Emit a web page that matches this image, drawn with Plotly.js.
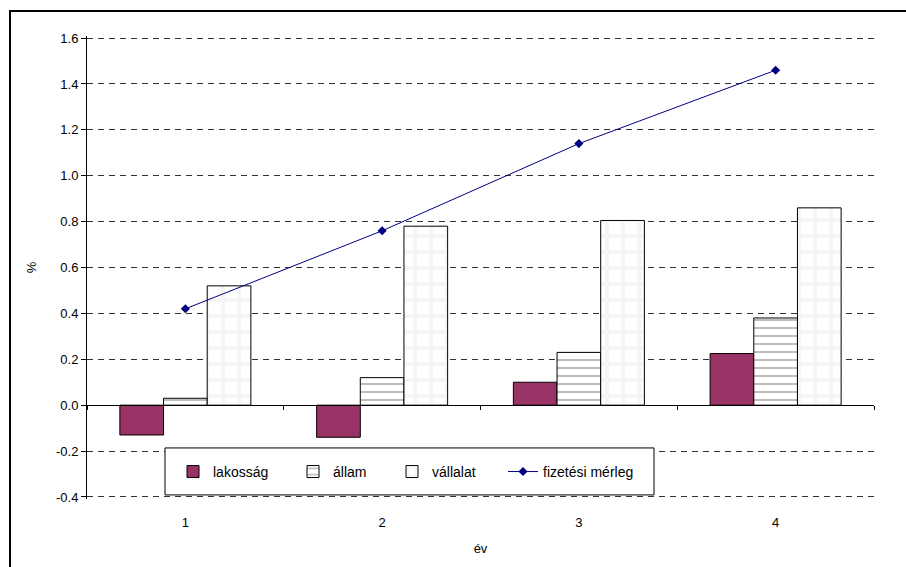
<!DOCTYPE html>
<html>
<head>
<meta charset="utf-8">
<script src="https://cdn.plot.ly/plotly-3.0.1.min.js"></script>
<style>
  html, body { margin: 0; padding: 0; background: #fff; overflow: hidden; }
  #wrap { position: relative; width: 906px; height: 567px; }
  #chart { position: absolute; left: 0; top: 0; width: 906px; height: 567px; }
  #frame { position: absolute; left: 9px; top: 10px; width: 920px; height: 580px;
           border-left: 2px solid #000; border-top: 2px solid #000; pointer-events: none; }
</style>
</head>
<body>
<div id="wrap">
  <div id="chart"></div>
  <div id="frame"></div>
</div>
<script>
// years on the category axis
const years = ['1', '2', '3', '4'];

// contributions by sector, %
const lakossag = [-0.13, -0.14, 0.10, 0.225];
const allam    = [0.03, 0.12, 0.23, 0.38];
const vallalat = [0.52, 0.78, 0.805, 0.86];

// balance of payments, %
const fizetesiMerleg = [0.42, 0.76, 1.14, 1.46];

// y tick labels (plain hyphen minus)
const yTickVals = [-0.4, -0.2, 0.0, 0.2, 0.4, 0.6, 0.8, 1.0, 1.2, 1.4, 1.6];
const yTickText = ['-0.4', '-0.2', '0.0', '0.2', '0.4', '0.6', '0.8', '1.0', '1.2', '1.4', '1.6'];

const FONT = 'Liberation Sans, Arial, sans-serif';
const barLine = { color: '#000000', width: 1 };

const traces = [
  {
    type: 'bar', name: 'lakosság', x: years, y: lakossag,
    marker: { color: '#993366', line: barLine },
    legend: 'legend'
  },
  {
    type: 'bar', name: 'állam', x: years, y: allam,
    marker: {
      color: '#ffffff', line: barLine,
      pattern: { shape: '-', fgcolor: '#bcbcbc', bgcolor: '#ffffff', size: 8, solidity: 0.25 }
    },
    legend: 'legend2'
  },
  {
    type: 'bar', name: 'vállalat', x: years, y: vallalat,
    marker: {
      color: '#ffffff', line: barLine,
      pattern: { shape: '+', fgcolor: '#f5f5f5', bgcolor: '#ffffff', size: 16, solidity: 0.45 }
    },
    legend: 'legend3'
  },
  {
    type: 'scatter', mode: 'lines+markers', name: 'fizetési mérleg',
    x: years, y: fizetesiMerleg, xaxis: 'x2',
    line: { color: '#000080', width: 1 },
    marker: { symbol: 'diamond', size: 7, color: '#000080' },
    legend: 'legend4'
  }
];

// value range with a little headroom so the end gridlines are drawn
const yMin = -0.4, yMax = 1.6, pad = 0.009;
const gridTop = 38, gridBottom = 497, plotL = 87, plotR = 874;
const pxPerUnit = (gridBottom - gridTop) / (yMax - yMin);
const plotT = gridTop - pad * pxPerUnit, plotB = gridBottom + pad * pxPerUnit;
const pw = plotR - plotL, ph = plotB - plotT;
const px = v => (v - plotL) / pw;
const py = v => (plotB - v) / ph;

function oneLegend(textLeft) {
  return {
    orientation: 'h', x: px(textLeft - 40), xanchor: 'left',
    y: py(472), yanchor: 'middle',
    bgcolor: 'rgba(0,0,0,0)', borderwidth: 0,
    font: { family: FONT, size: 14, color: '#000' }
  };
}

const layout = {
  width: 906, height: 567,
  margin: { l: plotL, r: 906 - plotR, t: plotT, b: 567 - plotB, pad: 0 },
  paper_bgcolor: '#ffffff', plot_bgcolor: '#ffffff',
  font: { family: FONT, size: 13, color: '#000' },
  barmode: 'group', bargap: 0.334, bargroupgap: 0,
  showlegend: true,
  xaxis: {
    type: 'category', showline: false, showgrid: false, zeroline: false,
    ticks: '', ticklabelstandoff: 14,
    tickfont: { family: FONT, size: 13, color: '#000' },
    title: { text: 'év', standoff: 14, font: { family: FONT, size: 13, color: '#000' } }
  },
  xaxis2: {
    type: 'category', overlaying: 'x', matches: 'x', anchor: 'free',
    position: (0 - (yMin - pad)) / (yMax - yMin + 2 * pad),
    showline: true, linecolor: '#000', linewidth: 1,
    ticks: 'outside', tickson: 'boundaries', ticklen: 4, tickcolor: '#000', tickwidth: 1,
    showticklabels: false, showgrid: false, zeroline: false
  },
  yaxis: {
    range: [yMin - pad, yMax + pad], tickvals: yTickVals, ticktext: yTickText,
    showline: true, linecolor: '#000', linewidth: 1,
    ticks: 'outside', ticklen: 5, tickcolor: '#000',
    showgrid: true, gridcolor: '#333333', gridwidth: 1, griddash: '6px,5px',
    zeroline: false,
    tickfont: { family: FONT, size: 13, color: '#000' },
    title: { text: '%', standoff: 16, font: { family: FONT, size: 13, color: '#000' } }
  },
  legend: oneLegend(213),
  legend2: oneLegend(333),
  legend3: oneLegend(432),
  legend4: oneLegend(543),
  shapes: [
    {
      type: 'rect', xref: 'paper', yref: 'paper',
      x0: px(165), x1: px(654), y0: py(495), y1: py(448),
      line: { color: '#000', width: 1 }, fillcolor: '#ffffff', layer: 'above'
    }
  ]
};

Plotly.newPlot('chart', traces, layout, { staticPlot: true, displayModeBar: false });
</script>
</body>
</html>
